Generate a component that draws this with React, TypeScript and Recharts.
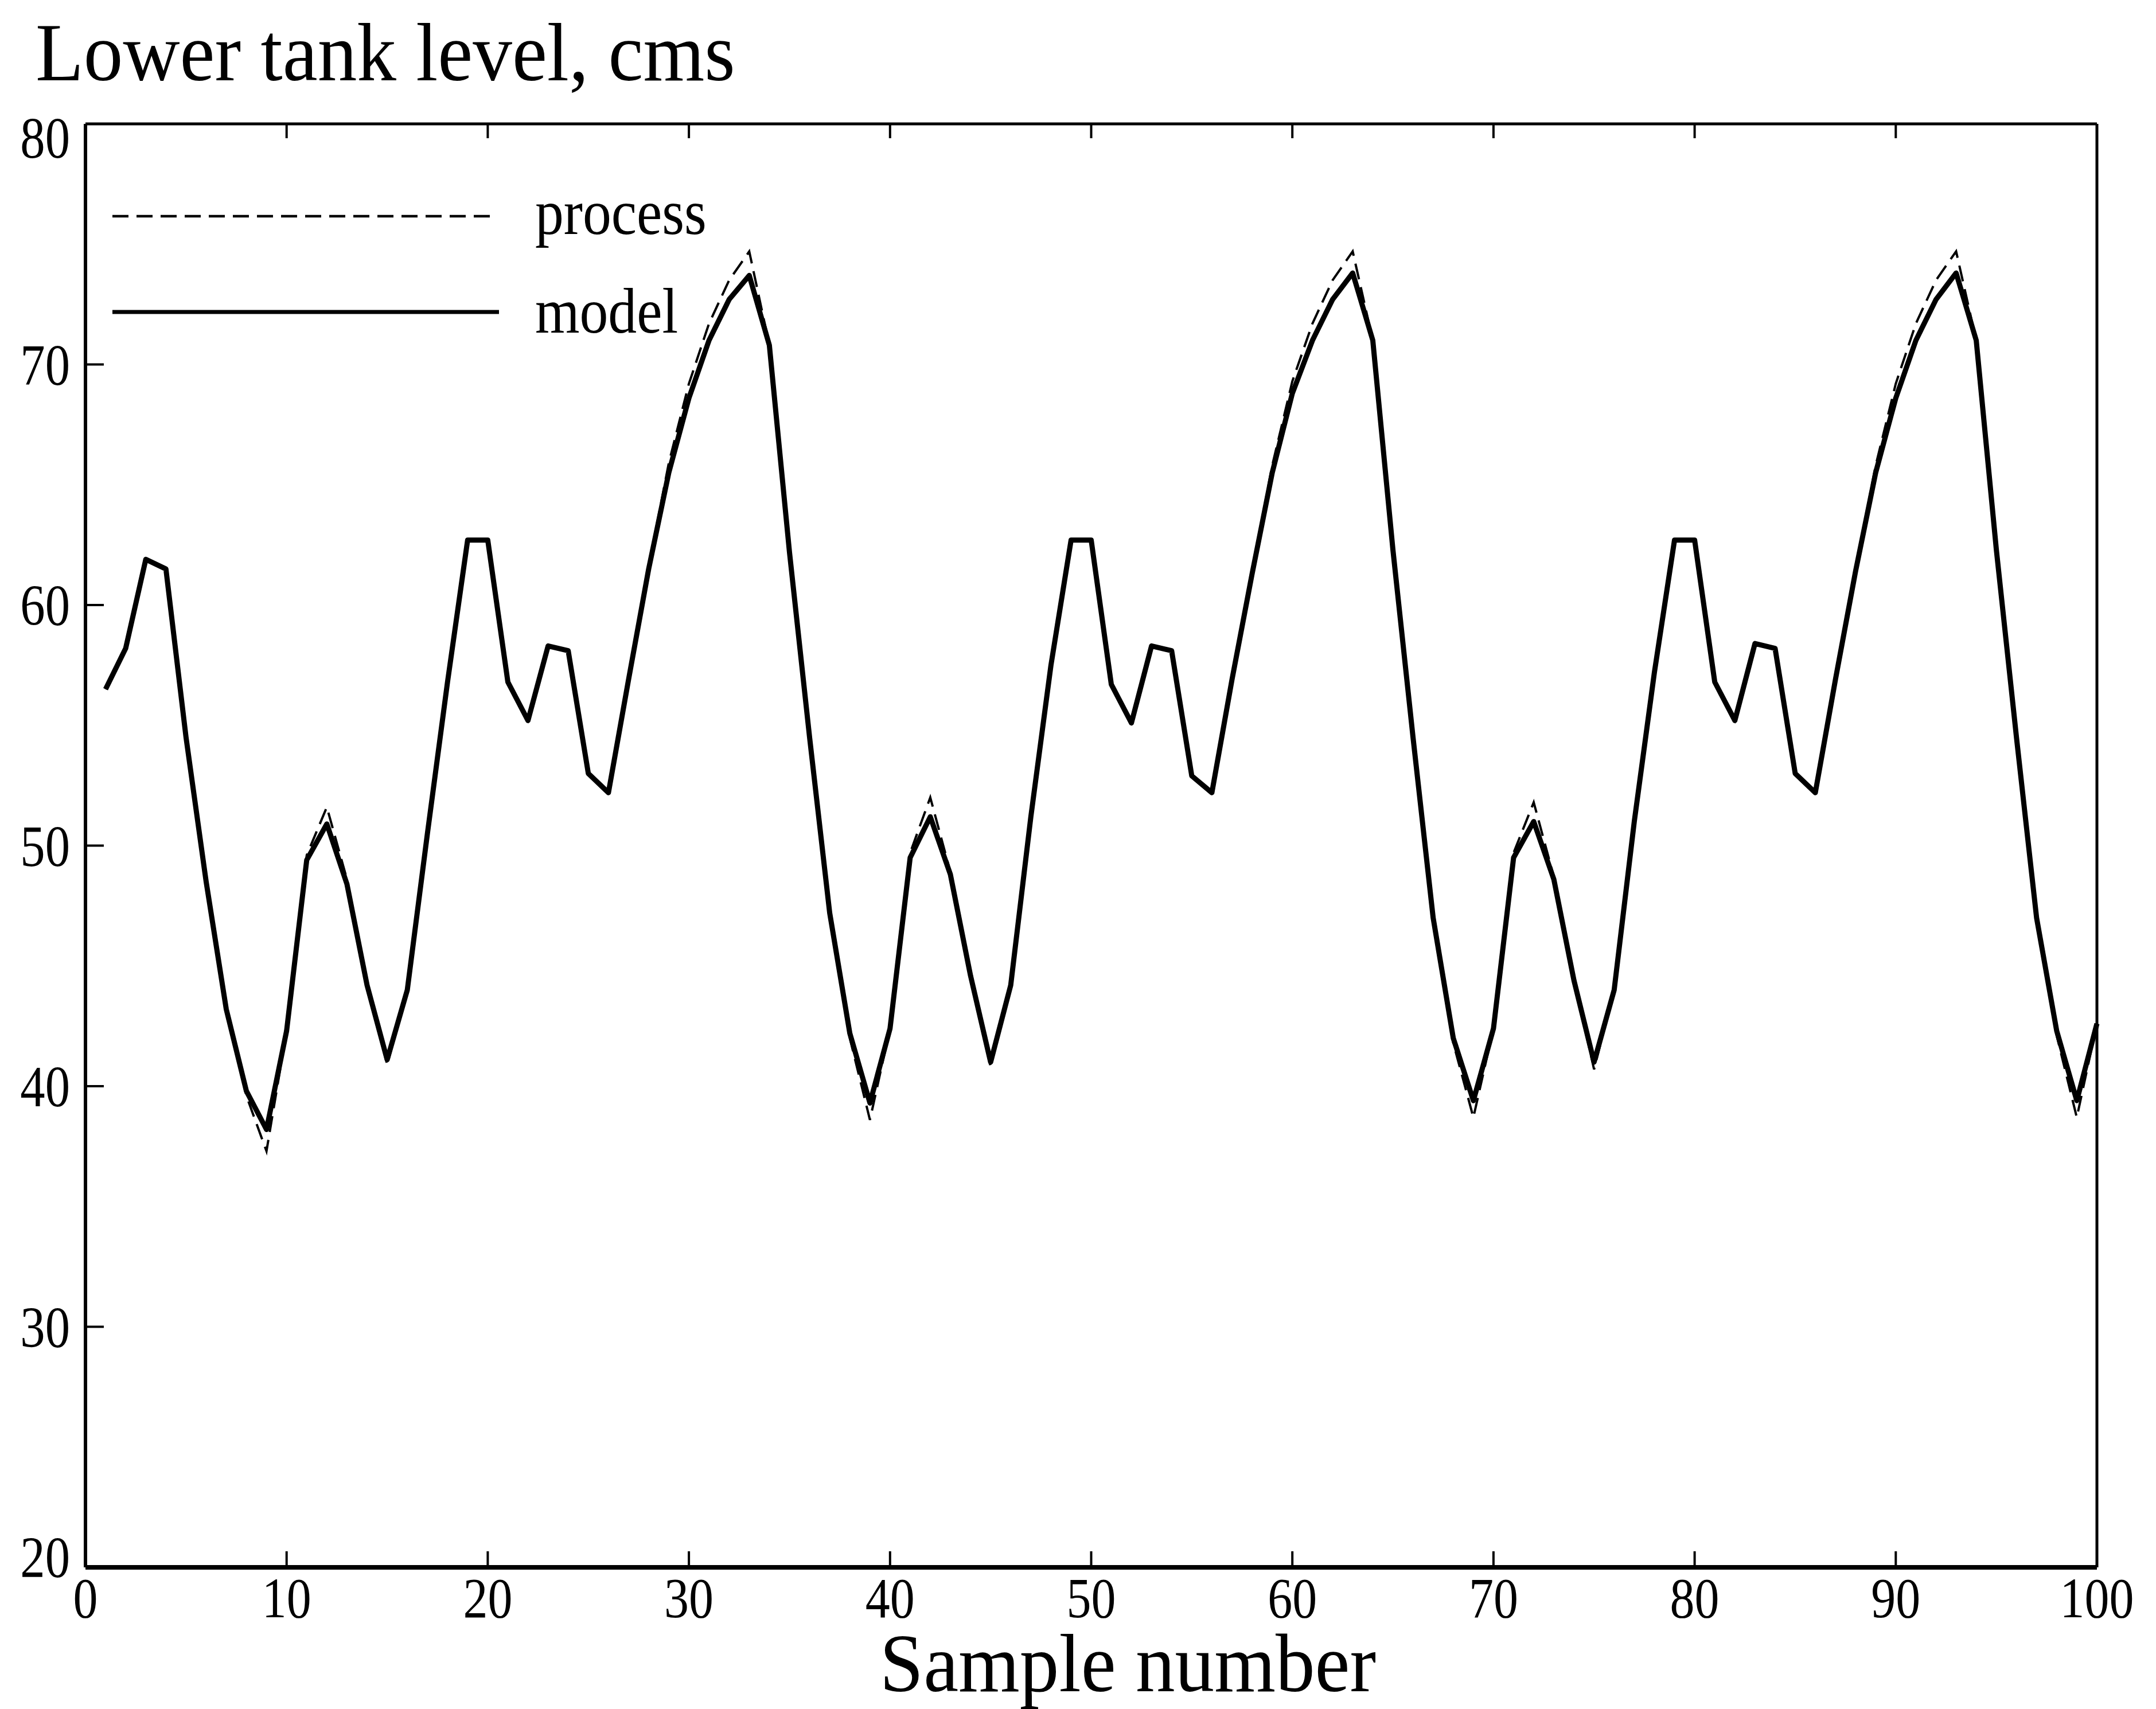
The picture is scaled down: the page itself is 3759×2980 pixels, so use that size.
import { LineChart, Line, XAxis, YAxis, Legend, Label } from "recharts";

// sample index (x axis)
const samples = [
  1, 2, 3, 4, 5, 6, 7, 8, 9, 10, 11, 12, 13, 14, 15, 16, 17, 18, 19, 20,
  21, 22, 23, 24, 25, 26, 27, 28, 29, 30, 31, 32, 33, 34, 35, 36, 37, 38, 39, 40,
  41, 42, 43, 44, 45, 46, 47, 48, 49, 50, 51, 52, 53, 54, 55, 56, 57, 58, 59, 60,
  61, 62, 63, 64, 65, 66, 67, 68, 69, 70, 71, 72, 73, 74, 75, 76, 77, 78, 79, 80,
  81, 82, 83, 84, 85, 86, 87, 88, 89, 90, 91, 92, 93, 94, 95, 96, 97, 98, 99, 100,
];

// lower tank level, cms
const modelLevel = [
  56.5, 58.2, 61.9, 61.5, 54.5, 48.5, 43.2, 39.8, 38.2, 42.3,
  49.4, 50.9, 48.4, 44.2, 41.1, 44.0, 50.5, 56.8, 62.7, 62.7,
  56.8, 55.2, 58.3, 58.1, 53.0, 52.2, 56.9, 61.5, 65.5, 68.6,
  71.0, 72.7, 73.7, 70.8, 62.2, 54.5, 47.2, 42.2, 39.3, 42.4,
  49.5, 51.2, 48.8, 44.6, 41.0, 44.2, 51.2, 57.5, 62.7, 62.7,
  56.7, 55.1, 58.3, 58.1, 52.9, 52.2, 56.9, 61.3, 65.5, 68.8,
  71.0, 72.7, 73.8, 71.0, 62.3, 54.5, 47.0, 42.0, 39.4, 42.4,
  49.5, 51.0, 48.6, 44.4, 41.0, 44.0, 51.0, 57.2, 62.7, 62.7,
  56.8, 55.2, 58.4, 58.2, 53.0, 52.2, 56.9, 61.4, 65.5, 68.6,
  71.0, 72.7, 73.8, 71.0, 62.3, 54.5, 47.0, 42.3, 39.4, 42.6,
];

const processLevel = [
  56.5, 58.2, 61.9, 61.5, 54.5, 48.5, 43.2, 39.6, 37.3, 42.3,
  49.6, 51.6, 48.6, 44.2, 40.9, 44.0, 50.5, 56.8, 62.7, 62.7,
  56.8, 55.2, 58.3, 58.1, 53.0, 52.2, 56.9, 61.6, 65.9, 69.2,
  71.7, 73.5, 74.7, 70.8, 62.2, 54.5, 47.2, 42.0, 38.6, 42.4,
  49.7, 52.0, 48.9, 44.6, 40.8, 44.2, 51.2, 57.5, 62.7, 62.7,
  56.7, 55.1, 58.3, 58.1, 52.9, 52.2, 56.9, 61.4, 65.8, 69.3,
  71.7, 73.5, 74.7, 71.0, 62.3, 54.5, 47.0, 41.8, 38.7, 42.4,
  49.7, 51.8, 48.7, 44.4, 40.7, 44.0, 51.0, 57.2, 62.7, 62.7,
  56.8, 55.2, 58.4, 58.2, 53.0, 52.2, 56.9, 61.5, 65.8, 69.2,
  71.7, 73.5, 74.7, 71.0, 62.3, 54.5, 47.0, 42.1, 38.7, 42.6,
];

const xTicks = [0, 10, 20, 30, 40, 50, 60, 70, 80, 90, 100];
const yTicks = [20, 30, 40, 50, 60, 70, 80];

const data = samples.map((s, i) => ({ sample: s, process: processLevel[i], model: modelLevel[i] }));

const FONT = '"Liberation Serif", "Times New Roman", serif';

function BottomTick({ x, y, payload }: any) {
  const v = payload.value;
  return (
    <g>
      {v > 0 && v < 100 && <line x1={x} x2={x} y1={y} y2={y - 28} stroke="#000" strokeWidth={4} />}
      <text transform={`translate(${x},${y + 87}) scale(0.86,1)`} textAnchor="middle" fontSize={100} fontFamily={FONT} fill="#000">
        {v}
      </text>
    </g>
  );
}

function LeftTick({ x, y, payload }: any) {
  const v = payload.value;
  const dy = v === 80 ? 59 : v === 20 ? 17 : 35;
  return (
    <g>
      {v > 20 && v < 80 && <line x1={x} x2={x + 32} y1={y} y2={y} stroke="#000" strokeWidth={4} />}
      <text transform={`translate(${x - 27},${y + dy}) scale(0.85,1)`} textAnchor="end" fontSize={102} fontFamily={FONT} fill="#000">
        {v}
      </text>
    </g>
  );
}

function TopTick({ x, y, payload }: any) {
  const v = payload.value;
  if (v <= 0 || v >= 100) return <g />;
  return <line x1={x} x2={x} y1={y} y2={y + 25} stroke="#000" strokeWidth={4} />;
}

function RightTick({ x, y, payload }: any) {
  const v = payload.value;
  if (v <= 20 || v >= 80) return <g />;
  return <line x1={x} x2={x - 36} y1={y} y2={y} stroke="#000" strokeWidth={4} />;
}

function XTitle({ viewBox }: any) {
  const cx = viewBox.x + viewBox.width / 2 + 64;
  return (
    <text transform={`translate(${cx},${viewBox.y + 216}) scale(0.96,1)`} textAnchor="middle" fontSize={143} fontFamily={FONT} fill="#000">
      Sample number
    </text>
  );
}

function YTitle({ viewBox }: any) {
  return (
    <text transform={`translate(${viewBox.x + 13},${viewBox.y - 76}) scale(0.96,1)`} fontSize={143} fontFamily={FONT} fill="#000">
      Lower tank level, cms
    </text>
  );
}

function LegendBox() {
  return (
    <svg width={1300} height={650}>
      <line x1={196} x2={866} y1={377} y2={377} stroke="#000" strokeWidth={4.5} strokeDasharray="28 14" />
      <text transform="translate(933,408) scale(0.89,1)" fontSize={112} fontFamily={FONT} fill="#000">process</text>
      <line x1={196} x2={870} y1={544} y2={544} stroke="#000" strokeWidth={7} />
      <text transform="translate(933,580) scale(0.89,1)" fontSize={112} fontFamily={FONT} fill="#000">model</text>
    </svg>
  );
}

export default function App() {
  return (
    <div style={{ position: "absolute", left: 0, top: 0, width: 3759, height: 2980, background: "#fff" }}>
      <LineChart width={3759} height={2980} data={data} margin={{ top: 196, right: 83, bottom: 147, left: 49 }}>
        <XAxis
          dataKey="sample"
          type="number"
          domain={[0, 100]}
          ticks={xTicks}
          interval={0}
          height={100}
          tickSize={0}
          tickMargin={0}
          tickLine={false}
          tick={<BottomTick />}
          axisLine={{ stroke: "#000", strokeWidth: 8 }}
        >
          <Label content={<XTitle />} />
        </XAxis>
        <XAxis
          xAxisId="top"
          orientation="top"
          dataKey="sample"
          type="number"
          domain={[0, 100]}
          ticks={xTicks}
          interval={0}
          height={20}
          tickSize={0}
          tickMargin={0}
          tickLine={false}
          tick={<TopTick />}
          axisLine={{ stroke: "#000", strokeWidth: 5 }}
        />
        <YAxis
          type="number"
          domain={[20, 80]}
          ticks={yTicks}
          interval={0}
          width={100}
          tickSize={0}
          tickMargin={0}
          tickLine={false}
          tick={<LeftTick />}
          axisLine={{ stroke: "#000", strokeWidth: 6 }}
        >
          <Label content={<YTitle />} />
        </YAxis>
        <YAxis
          yAxisId="right"
          orientation="right"
          type="number"
          domain={[20, 80]}
          ticks={yTicks}
          interval={0}
          width={20}
          tickSize={0}
          tickMargin={0}
          tickLine={false}
          tick={<RightTick />}
          axisLine={{ stroke: "#000", strokeWidth: 5 }}
        />
        <Legend
          layout="horizontal"
          verticalAlign="middle"
          wrapperStyle={{ left: 0, top: 0, width: 1300, height: 650 }}
          content={<LegendBox />}
        />
        <Line
          dataKey="process"
          name="process"
          type="linear"
          stroke="#000"
          strokeWidth={4}
          strokeDasharray="28 14"
          dot={false}
          isAnimationActive={false}
        />
        <Line
          dataKey="model"
          name="model"
          type="linear"
          stroke="#000"
          strokeWidth={9}
          strokeLinejoin="round"
          dot={false}
          isAnimationActive={false}
        />
      </LineChart>
    </div>
  );
}
